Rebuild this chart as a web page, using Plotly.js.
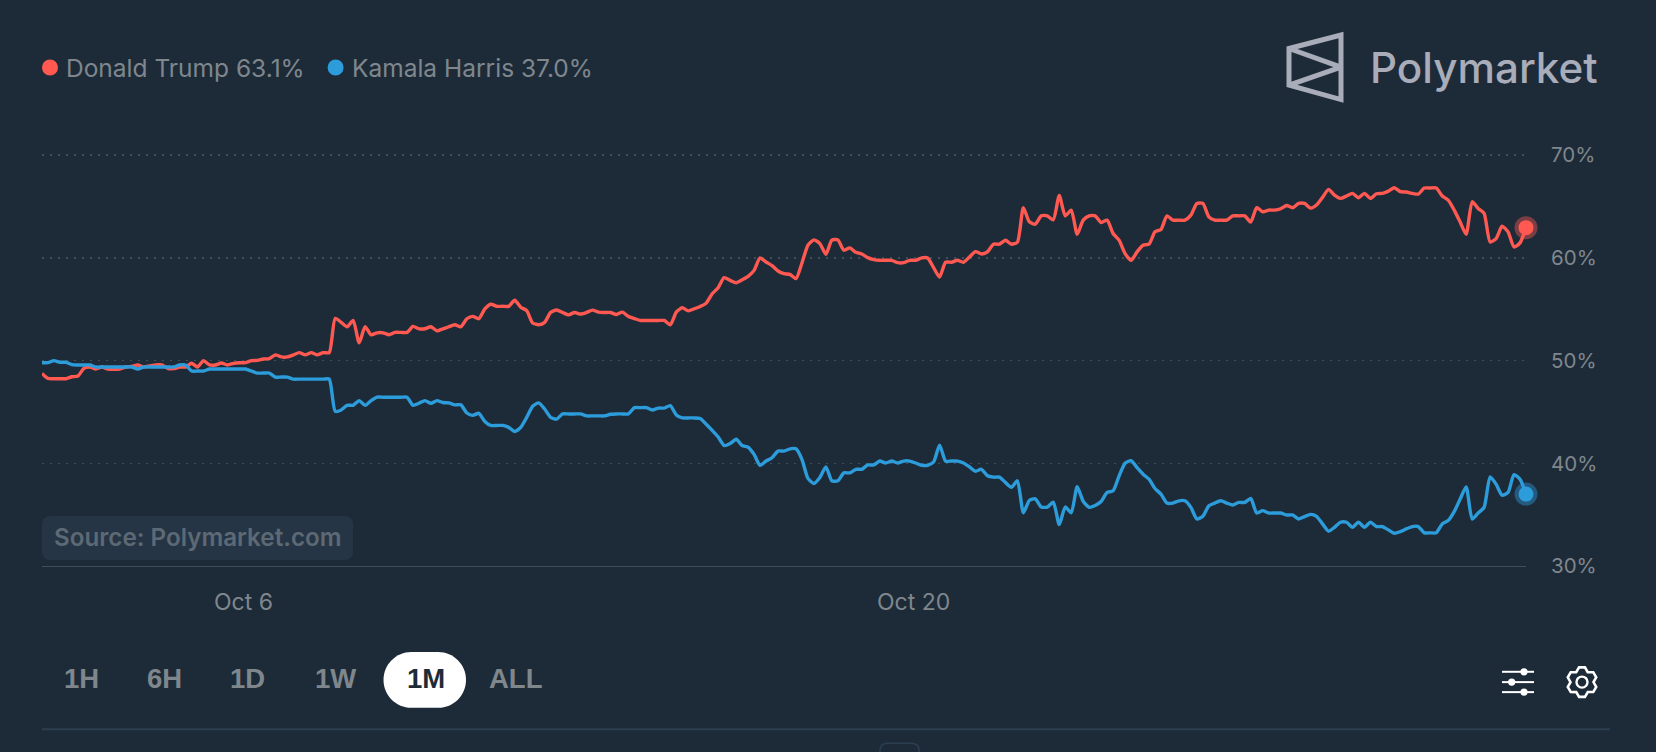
<!DOCTYPE html>
<html>
<head>
<meta charset="utf-8">
<script src="https://cdn.plot.ly/plotly-3.0.1.min.js"></script>
<style>html,body{margin:0;padding:0;background:#1D2B39;overflow:hidden}#chart{width:1656px;height:752px}</style>
</head>
<body>
<div id="chart"></div>
<script>
const seriesNames = ["Donald Trump 63.1%", "Kamala Harris 37.0%"];
const seriesColors = ["#FF5952", "#2D9CDB"];
const yTicks = [30, 40, 50, 60, 70];
const yTickLabels = ["30%", "40%", "50%", "60%", "70%"];
const xTickDates = ["2024-10-06", "2024-10-20"];
const xTickLabels = ["Oct 6", "Oct 20"];
const rangeButtons = ["1H", "6H", "1D", "1W", "1M", "ALL"];
const firstSample = "2024-10-01T19:00:00Z";
const sampleHours = 3;

const trump = [
48.76,48.27,48.24,48.24,48.24,48.43,48.5,49.25,49.38,49.18,49.38,49.18,49.15,49.18,49.38,49.44,49.58,49.38,49.48,49.58,
49.58,49.25,49.22,49.38,49.38,49.74,49.38,50,49.58,49.58,49.77,49.58,49.74,49.8,49.8,50,50.03,50.16,50.2,50.56,
50.36,50.36,50.56,50.78,50.56,50.78,50.56,50.78,50.78,54.12,53.73,53.3,53.92,51.73,53.3,52.52,52.71,52.71,52.52,52.75,
52.75,52.75,53.33,53.1,53.1,53.3,52.9,53.1,53.3,53.5,53.3,54.08,54.31,54.08,55.03,55.49,55.29,55.29,55.29,55.88,
55.2,54.87,53.66,53.5,53.73,54.7,54.93,
54.69,54.46,54.69,54.53,54.69,54.92,54.72,54.69,54.69,54.5,54.72,54.3,54.1,53.91,53.91,53.91,53.91,53.91,53.49,54.72,
55.15,54.85,55.05,55.28,55.6,56.51,57.1,58.08,57.82,57.59,57.88,58.21,58.79,60,59.61,59.25,58.73,58.47,58.4,57.98,
59.51,61.24,61.76,61.4,60.36,61.73,61.76,60.75,60.98,60.55,60.39,60.03,59.84,59.77,59.77,59.77,59.54,59.54,59.77,59.77,
60,60,59.06,58.14,59.58,59.58,59.77,59.58,60.1,60.62,60.39,60.59,61.34,61.34,61.73,61.34,61.53,64.89,63.52,63.29,
64.1,64.1,63.71,66.09,64.1,64.66,62.31,63.68,64.1,64.1,63.45,63.68,
62.38,61.73,60.42,59.77,60.59,61.24,61.34,62.54,62.77,64.1,63.68,63.68,63.68,64.17,65.31,65.31,64.01,63.68,63.68,63.68,
64.1,64.1,64.1,63.49,64.89,64.5,64.66,64.66,64.79,65.11,64.89,65.31,65.31,64.85,65.15,65.9,66.68,66.12,65.8,66.03,
66.29,65.86,66.29,65.8,66.25,66.29,66.51,66.84,66.45,66.42,66.29,66.22,66.81,66.81,66.81,66.03,65.63,64.66,63.49,62.31,
65.47,64.82,64.33,61.56,61.89,63.09,62.54,61.07,61.47,62.95
];

const harris = [
49.8,49.8,50,49.84,49.84,49.61,49.58,49.58,49.58,49.38,49.38,49.38,49.38,49.38,49.38,49.38,49.18,49.38,49.38,49.38,
49.38,49.38,49.38,49.58,49.58,48.99,48.99,48.99,49.18,49.18,49.18,49.18,49.18,49.18,49.18,48.99,48.79,48.79,48.79,48.4,
48.4,48.4,48.2,48.2,48.2,48.2,48.2,48.2,48.2,45.07,45.2,45.65,45.65,46.11,45.65,46.11,46.44,46.44,46.44,46.44,
46.44,46.44,45.65,45.85,46.11,45.85,46.11,45.92,45.88,45.69,45.69,44.9,44.67,44.87,44.08,43.69,43.69,43.69,43.5,43.1,
43.5,44.48,45.56,45.88,45.29,44.48,44.31,
44.81,44.81,44.81,44.81,44.62,44.62,44.62,44.62,44.78,44.81,44.81,44.81,45.42,45.42,45.42,45.19,45.38,45.38,45.61,44.71,
44.42,44.42,44.42,44.36,43.81,43.21,42.56,41.73,41.92,42.34,41.73,41.57,40.87,39.81,40.22,40.54,41.19,41.19,41.41,41.41,
40.38,38.53,38.04,38.62,39.65,38.3,38.3,39.07,39.07,39.42,39.42,39.84,39.84,40.22,40.03,40.22,40.03,40.22,40.22,40.03,
39.81,39.81,40.13,41.76,40.22,40.22,40.22,40.03,39.65,39.23,39.42,38.78,38.65,38.65,38.14,37.66,38.3,35.19,36.38,36.54,
35.74,35.74,36.22,34.04,35.74,35.19,37.72,36.3,35.72,35.9,36.28,37.16,
37.32,38.77,40,40.26,39.58,38.94,38.45,37.55,37,36.13,36.13,36.35,36.35,35.71,34.58,34.84,35.87,36.13,36.35,36.13,
35.94,36.19,36.19,36.58,35.16,35.39,35.16,35.16,35.16,34.97,34.97,34.58,34.81,35.03,34.84,34.1,33.39,33.77,34.26,34.26,
33.77,34.26,33.77,34.26,33.84,33.84,33.52,33.19,33.35,33.61,33.84,33.84,33.23,33.23,33.23,34.1,34.42,35.29,36.52,37.71,
34.58,35.16,35.71,38.68,37.97,36.9,37.16,38.9,38.45,37.0
];

// page geometry of the plot area, in pixels; the y range runs one unit above the top gridline
const L = 42, R = 1526, T = 145.4, B = 566;
const fx = x => (x - L) / (R - L);
const fy = y => (B - y) / (B - T);
const P = (x, y) => fx(x) + "," + fy(y);

const times = trump.map((_, i) => new Date(Date.parse(firstSample) + i * sampleHours * 3600e3).toISOString());
const last = arr => arr[arr.length - 1];

const lineTrace = (vals, color) => ({
  x: times, y: vals, type: "scatter", mode: "lines", hoverinfo: "skip", showlegend: false,
  line: {color: color, width: 3.4, shape: "spline", smoothing: 0.6}
});
const dotTrace = (vals, color, size, opacity) => ({
  x: [last(times)], y: [last(vals)], type: "scatter", mode: "markers", hoverinfo: "skip", showlegend: false,
  cliponaxis: false, marker: {color: color, size: size, opacity: opacity, line: {width: 0}}
});

const data = [
  lineTrace(trump, seriesColors[0]),
  lineTrace(harris, seriesColors[1]),
  dotTrace(trump, seriesColors[0], 23, 0.42),
  dotTrace(trump, seriesColors[0], 15, 1),
  dotTrace(harris, seriesColors[1], 23, 0.42),
  dotTrace(harris, seriesColors[1], 15, 1)
];

const chrome = {xref: "paper", yref: "paper", layer: "above"};
const stroke = (path, color, width) => Object.assign({}, chrome, {type: "path", path, line: {color, width}});
const solid = (path, color, layer) => Object.assign({}, chrome, {type: "path", path, fillcolor: color, line: {width: 0}, layer: layer || "above"});
const disc = (cx, cy, r, color) => Object.assign({}, chrome, {type: "circle", x0: fx(cx - r), x1: fx(cx + r), y0: fy(cy + r), y1: fy(cy - r), fillcolor: color, line: {width: 0}});
const roundRect = (x0, y0, x1, y1, r) => {
  const k = r * 0.45;
  return "M" + P(x0 + r, y0) + " L" + P(x1 - r, y0) + " C" + P(x1 - k, y0) + " " + P(x1, y0 + k) + " " + P(x1, y0 + r) +
  " L" + P(x1, y1 - r) + " C" + P(x1, y1 - k) + " " + P(x1 - k, y1) + " " + P(x1 - r, y1) +
  " L" + P(x0 + r, y1) + " C" + P(x0 + k, y1) + " " + P(x0, y1 - k) + " " + P(x0, y1 - r) +
  " L" + P(x0, y0 + r) + " C" + P(x0, y0 + k) + " " + P(x0 + k, y0) + " " + P(x0 + r, y0) + " Z";
};

// gear outline
function gearPath(cx, cy, rOut, rIn) {
  let d = "";
  for (let k = 0; k < 6; k++) {
    const a = (-90 + 60 * k) * Math.PI / 180, w = 0.36;
    const pts = [[rOut, a - w * 0.55], [rOut, a + w * 0.55], [rIn, a + 0.52]];
    pts.forEach((p, j) => {
      const px = cx + p[0] * Math.cos(p[1]), py = cy + p[0] * Math.sin(p[1]);
      d += ((k === 0 && j === 0) ? "M" : "L") + P(px, py) + " ";
    });
  }
  return d + "Z";
}

const logoColor = "#A9ACB9";
const shapes = [
  solid(roundRect(42, 516, 353, 560, 8), "#253545", "below"),
  stroke("M" + P(42, 729) + " L" + P(1610, 729), "#2C3F50", 2),
  stroke("M" + P(880, 752) + " L" + P(880, 750) + " Q" + P(880, 743) + " " + P(888, 743) + " L" + P(911, 743) + " Q" + P(919, 743) + " " + P(919, 750) + " L" + P(919, 752), "#2C3F50", 1.5),
  disc(50, 68, 8, seriesColors[0]),
  disc(335.6, 68, 8, seriesColors[1]),
  solid(roundRect(383.5, 652, 466, 707.7, 27.8), "#FFFFFF"),
  stroke("M" + P(1289, 49) + " L" + P(1341, 35.5) + " L" + P(1341, 100) + " L" + P(1289, 85.5) + " Z", logoColor, 5),
  stroke("M" + P(1289, 49) + " L" + P(1341, 67.5), logoColor, 5),
  stroke("M" + P(1289, 85.5) + " L" + P(1341, 67.5), logoColor, 5),
  stroke("M" + P(1502, 671.7) + " L" + P(1534, 671.7), "#FFFFFF", 2),
  stroke("M" + P(1502, 682) + " L" + P(1534, 682), "#FFFFFF", 2),
  stroke("M" + P(1502, 692) + " L" + P(1534, 692), "#FFFFFF", 2),
  disc(1524, 671.7, 3.6, "#FFFFFF"),
  disc(1511.7, 682, 3.6, "#FFFFFF"),
  disc(1524, 692, 3.6, "#FFFFFF"),
  stroke(gearPath(1582, 682, 15, 11.5), "#FFFFFF", 2.6),
  Object.assign({}, chrome, {type: "circle", x0: fx(1576.5), x1: fx(1587.5), y0: fy(687.5), y1: fy(676.5), line: {color: "#FFFFFF", width: 2.4}})
];

const note = (text, x, y, size, color, weight, anchor, family) => ({
  text, x: fx(x), y: fy(y), xref: "paper", yref: "paper", showarrow: false,
  xanchor: anchor || "left", yanchor: "middle", borderpad: 0, borderwidth: 0,
  font: {family: family || "Inter, sans-serif", size, color, weight: weight || 400}
});
const btnFont = "Liberation Sans, Arial, sans-serif";
const btnCenters = [81.7, 164.5, 247.5, 335, 425.5, 515];
const annotations = [
  note(seriesNames[0], 66, 68, 24.5, "#7F878D", 400),
  note(seriesNames[1], 352, 68, 24.5, "#7F878D", 400),
  note("Polymarket", 1370, 68, 42.2, logoColor, 500),
  note("Source: Polymarket.com", 54, 538, 24.2, "#5D6974", 600)
].concat(rangeButtons.map((b, i) => note(b, btnCenters[i], 678, 27.5, b === "1M" ? "#1D2B39" : "#7F878D", 700, "center", btnFont)));

const layout = {
  width: 1656, height: 752, autosize: false,
  paper_bgcolor: "#1D2B39", plot_bgcolor: "#1D2B39",
  margin: {l: L, r: 1656 - R, t: T, b: 752 - B, pad: 0},
  showlegend: false,
  xaxis: {
    type: "date", range: [times[0], last(times)], tickmode: "array", tickvals: xTickDates, ticktext: xTickLabels,
    showgrid: false, zeroline: false, showline: true, linecolor: "#414D5A", linewidth: 1.2,
    ticks: "", ticklabelstandoff: 15, tickfont: {family: "Inter, sans-serif", size: 23, color: "#7F878D"}
  },
  yaxis: {
    side: "right", range: [30, 71], tickmode: "array", tickvals: yTicks, ticktext: yTickLabels,
    showgrid: true, gridcolor: "#434E59", griddash: "2px,6px", gridwidth: 1.6, zeroline: false, showline: false,
    ticks: "", ticklabelstandoff: 24, ticklabelshift: -1.5, tickfont: {family: "Inter, sans-serif", size: 20.5, color: "#7F878D"}
  },
  shapes, annotations
};

Plotly.newPlot("chart", data, layout, {displayModeBar: false, staticPlot: true});
</script>
</body>
</html>
